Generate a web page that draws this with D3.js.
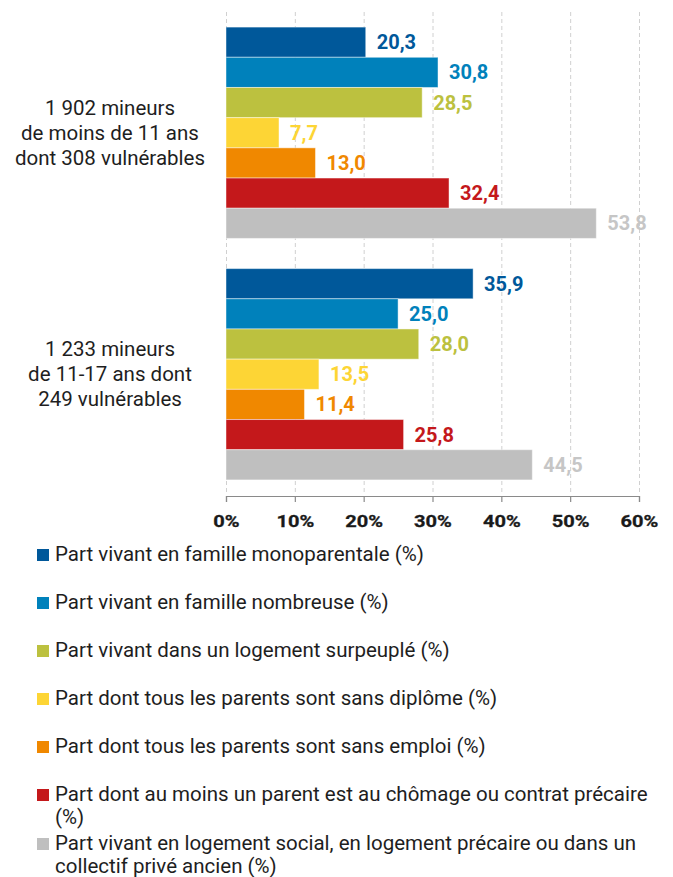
<!DOCTYPE html>
<html><head><meta charset="utf-8">
<script src="https://cdn.jsdelivr.net/npm/d3@7"></script>
<style>
html,body{margin:0;padding:0;background:#fff;}
svg{display:block;font-family:Roboto, "Noto Sans", sans-serif;}
</style></head>
<body>
<svg id="chart" width="673" height="877"></svg>
<script>
const groups = [
  ["1 902 mineurs", "de moins de 11 ans", "dont 308 vulnérables"],
  ["1 233 mineurs", "de 11-17 ans dont", "249 vulnérables"]
];
const seriesNames = [
  ["Part vivant en famille monoparentale (%)"],
  ["Part vivant en famille nombreuse (%)"],
  ["Part vivant dans un logement surpeuplé (%)"],
  ["Part dont tous les parents sont sans diplôme (%)"],
  ["Part dont tous les parents sont sans emploi (%)"],
  ["Part dont au moins un parent est au chômage ou contrat précaire", "(%)"],
  ["Part vivant en logement social, en logement précaire ou dans un", "collectif privé ancien (%)"]
];
const colors = ["#00589a", "#0081bb", "#bcc13f", "#fdd535", "#f08800", "#c4181b", "#bfbfbf"];
const labelColors = ["#00589a", "#0081bb", "#bcc13f", "#fdd535", "#f08800", "#c4181b", "#c6c6c6"];
const valuesGroup1 = [20.3, 30.8, 28.5, 7.7, 13.0, 32.4, 53.8];
const valuesGroup2 = [35.9, 25.0, 28.0, 13.5, 11.4, 25.8, 44.5];
const tickValues = [0, 10, 20, 30, 40, 50, 60];

const values = [valuesGroup1, valuesGroup2];
const svg = d3.select("#chart");
const x = d3.scaleLinear().domain([0, 60]).range([226, 639]);
const y0 = d3.scaleBand().domain([0, 1]).range([12, 495]).paddingInner(0.125).paddingOuter(0.0625);
const y1 = d3.scaleBand().domain(d3.range(7)).range([0, y0.bandwidth()]);
const fmt = v => d3.format(".1f")(v).replace(".", ",");

// grid
svg.append("g").selectAll("line").data(tickValues).join("line")
  .attr("x1", d => x(d) + 0.5).attr("x2", d => x(d) + 0.5)
  .attr("y1", 12).attr("y2", 495)
  .attr("stroke", "#d0d0d0").attr("stroke-width", 1).attr("stroke-dasharray", "4,3");

// bars
const g = svg.append("g").selectAll("g").data(values).join("g")
  .attr("transform", (d, i) => `translate(0,${y0(i)})`);
g.selectAll("rect").data(d => d).join("rect")
  .attr("x", x(0)).attr("y", (d, i) => y1(i))
  .attr("width", d => x(d) - x(0)).attr("height", y1.bandwidth())
  .attr("fill", (d, i) => colors[i])
  .attr("stroke", "rgba(255,255,255,0.45)").attr("stroke-width", 1);
g.selectAll("text").data(d => d).join("text")
  .attr("x", d => x(d) + 11).attr("y", (d, i) => y1(i) + y1.bandwidth() / 2 + 7)
  .attr("fill", (d, i) => labelColors[i])
  .attr("font-size", 20).attr("font-weight", "bold")
  .text(d => fmt(d));

// category labels
svg.append("g").selectAll("text").data(groups).join("text")
  .attr("text-anchor", "middle").attr("font-size", 20.5).attr("fill", "#1e1e1e")
  .each(function(lines, i) {
    const c = y0(i) + y0.bandwidth() / 2;
    d3.select(this).selectAll("tspan").data(lines).join("tspan")
      .attr("x", 110).attr("y", (l, j) => c + 7 + (j - 1) * 25).text(l => l);
  });

// axis
const axis = svg.append("g").attr("transform", "translate(0,496)")
  .call(d3.axisBottom(x).tickValues(tickValues).tickFormat(d => d + "%").tickSize(6).tickPadding(13));
axis.select(".domain").attr("stroke", "#8a8a8a").attr("stroke-width", 1.2);
axis.selectAll(".tick line").attr("stroke", "#8a8a8a").attr("stroke-width", 1.2);
axis.selectAll(".tick text").attr("font-size", 17).attr("font-weight", "bold")
  .attr("fill", "#1a1a1a").attr("font-family", "Roboto, sans-serif")
  .attr("transform", "scale(1.18,1)").attr("stroke", "#1a1a1a").attr("stroke-width", 0.3);

// legend
const legendY = [549, 597, 645, 693, 741, 789, 838];
const lg = svg.append("g").selectAll("g").data(seriesNames).join("g")
  .attr("transform", (d, i) => `translate(37,${legendY[i]})`);
lg.append("rect").attr("width", 12).attr("height", 12).attr("fill", (d, i) => colors[i]);
lg.append("text").attr("font-size", 20.5).attr("fill", "#1e1e1e")
  .each(function(lines) {
    d3.select(this).selectAll("tspan").data(lines).join("tspan")
      .attr("x", 18).attr("y", (l, j) => 12 + j * 23).text(l => l);
  });
</script>
</body></html>
